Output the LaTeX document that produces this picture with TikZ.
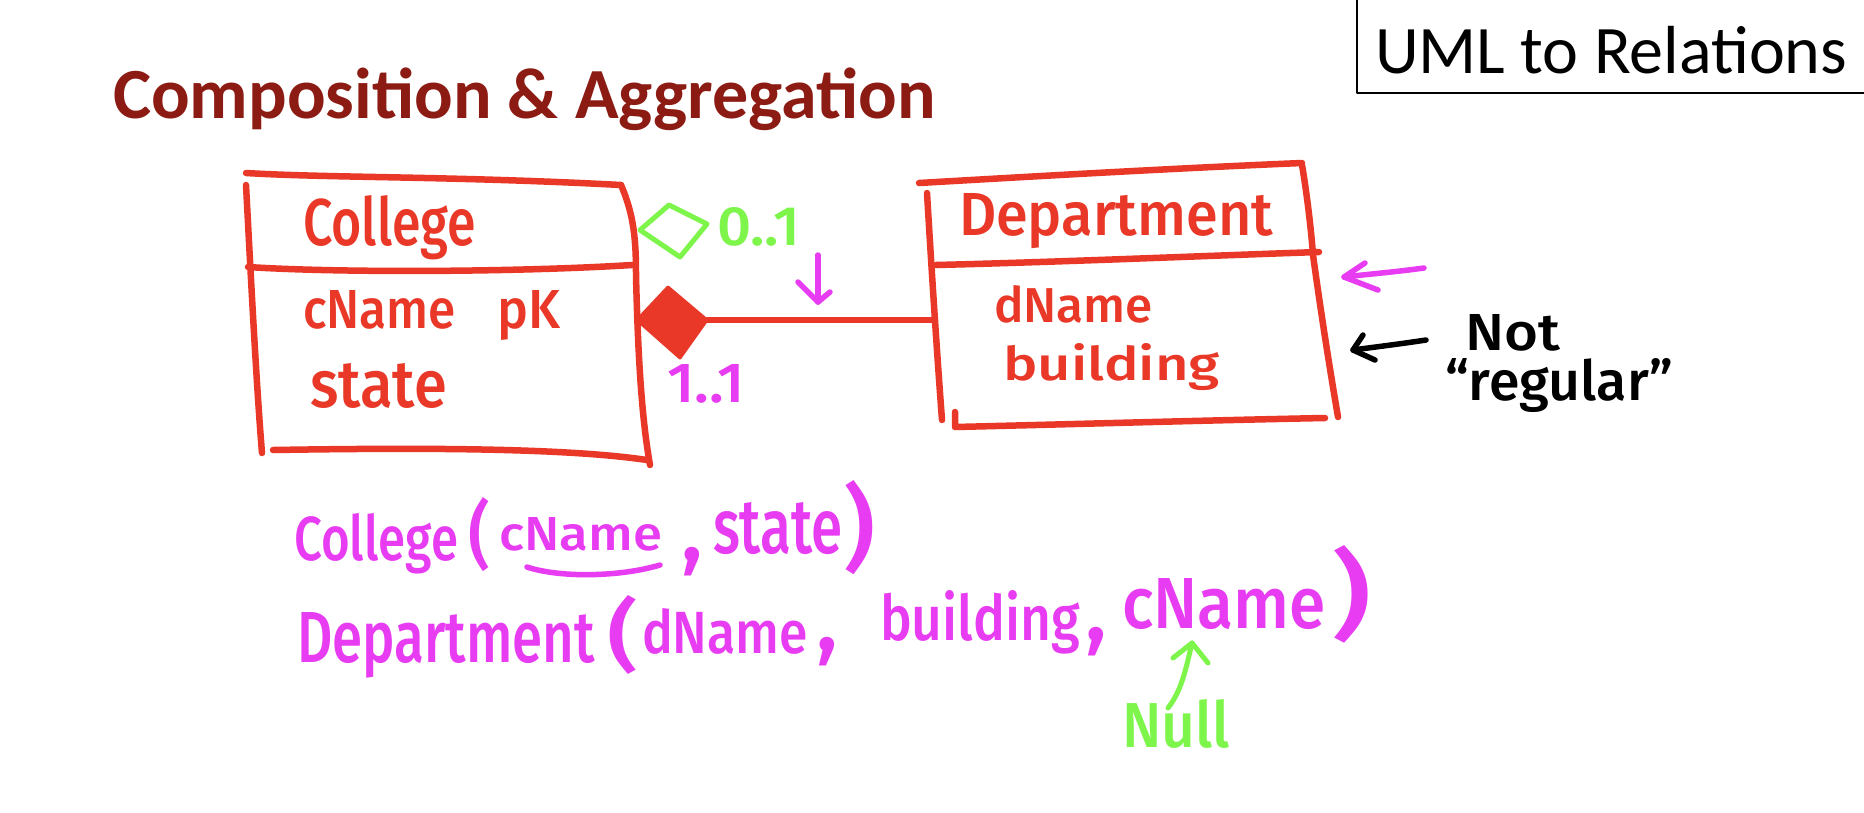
\documentclass[tikz,border=0pt]{standalone}
\usepackage{fontspec}
\usepackage{graphicx}
\newfontfamily\calib{Carlito}
\newfontfamily\hand{Fira Sans Medium}
\definecolor{penred}{RGB}{233,56,40}
\definecolor{pengreen}{RGB}{125,245,75}
\definecolor{penmag}{RGB}{232,60,242}
\definecolor{titlered}{RGB}{140,27,19}
\newcommand\hw[3]{\resizebox{#1pt}{#2pt}{\hand\fontsize{40}{40}\selectfont #3}}
\newcommand\hcomma{{\hand\fontsize{90}{90}\selectfont ,}}
\tikzset{
  redpen/.style={draw=penred, line width=6.5pt},
  greenpen/.style={draw=pengreen, line width=5pt},
  magpen/.style={draw=penmag, line width=5.5pt},
  blackpen/.style={draw=black, line width=5.5pt},
  hw/.style={inner sep=0pt, outer sep=0pt, anchor=base west},
}
\begin{document}
\begin{tikzpicture}[x=1pt,y=-1pt,line cap=round,line join=round]
\useasboundingbox (0,0) rectangle (1864,812);
\clip (0,0) rectangle (1864,812);
\fill[white] (0,0) rectangle (1864,812);

% Title and header box
\node[hw,text=titlered] (title) at (113,118) {\calib\bfseries\fontsize{72}{72}\selectfont Composition \& Aggregation};
\draw[line width=1.6pt] (1357,-10) rectangle (1880,93);
\node[hw] (uml) at (1375,73) {\calib\fontsize{68}{68}\selectfont UML to Relations};

% College box
\draw[redpen] (246,173) .. controls (330,178) and (450,176) .. (621,185);
\draw[redpen] (246,185) .. controls (250,260) and (256,380) .. (262,453);
\draw[redpen] (621,185) .. controls (634,215) and (636,240) .. (636,275) .. controls (638,360) and (642,420) .. (650,465);
\draw[redpen] (248,267) .. controls (340,273) and (520,272) .. (632,265);
\draw[redpen] (273,450) .. controls (400,448) and (560,447) .. (647,460);
\node[hw,text=penred] (colname) at (303,245) {\hw{173}{50}{College}};
\node[hw,text=penred] (colattr1) at (303,328) {\hw{153}{38}{cName}};
\node[hw,text=penred] (colpk) at (497,328) {\hw{63}{38}{pK}};
\node[hw,text=penred] (colattr2) at (310,407) {\hw{137}{44}{state}};

% Department box
\draw[redpen] (919,183) .. controls (1040,176) and (1180,168) .. (1302,163);
\draw[redpen] (927,193) .. controls (931,260) and (936,340) .. (942,420);
\draw[redpen] (936,265) .. controls (1060,262) and (1200,256) .. (1319,252);
\draw[redpen] (1302,165) .. controls (1308,200) and (1312,240) .. (1313,255) .. controls (1322,320) and (1330,370) .. (1338,417);
\draw[redpen] (955,412) -- (955,427) .. controls (1080,424) and (1220,420) .. (1325,418);
\node[hw,text=penred] (depname) at (959,235) {\hw{314}{42}{Department}};
\node[hw,text=penred] (depattr1) at (994,322) {\hw{159}{37}{dName}};
\node[hw,text=penred] (depattr2) at (1003,380) {\hw{217}{37}{building}};

% Composition diamond and connector
\coordinate (diaR) at (707,320);
\coordinate (deptL) at (935,320);
\fill[penred, draw=penred, line width=3pt] (668,287) -- (diaR) -- (680,358) -- (637,320) -- cycle;
\draw[redpen] (diaR) -- (deptL);

% Aggregation (green) diamond and multiplicities
\draw[greenpen] (669,205) -- (707,224) -- (680,257) -- (640,230) -- cycle;
\node[hw,text=pengreen] (mult01) at (717,245) {\hw{83}{38}{0..1}};
\node[hw,text=penmag] (mult11) at (667,402) {\hw{78}{38}{1..1}};

% small magenta down arrow
\coordinate (sa1) at (818,255);
\coordinate (sa2) at (818,302);
\draw[magpen] (sa1) -- (sa2);
\draw[magpen] (798,282) -- (sa2) -- (830,292);

% right side arrows
\coordinate (ma1) at (1424,268);
\coordinate (ma2) at (1344,277);
\draw[magpen] (ma1) .. controls (1395,272) and (1370,274) .. (ma2);
\draw[magpen] (1365,263) -- (ma2) -- (1378,290);
\coordinate (ba1) at (1426,340);
\coordinate (ba2) at (1353,350);
\draw[blackpen] (ba1) .. controls (1400,344) and (1375,347) .. (ba2);
\draw[blackpen] (1363,335) -- (ba2) -- (1375,360);
\node[hw] (nottxt) at (1465,350) {\hw{95}{36}{Not}};
\node[hw] (regtxt) at (1445,400) {\hw{228}{42}{“regular”}};

% Relations (magenta)
\node[hw,text=penmag] (r1a) at (294,560) {\hw{164}{47}{College}};
\node[hw,text=penmag] (r1p) at (468,560) {\hw{22}{63}{(}};
\node[hw,text=penmag] (r1b) at (499,550) {\hw{163}{33}{cName}};
\draw[magpen] (527,567) .. controls (560,578) and (620,577) .. (660,565);
\node[hw,text=penmag] (r1c) at (681,560) {\hcomma};
\node[hw,text=penmag] (r1d) at (713,553) {\hw{130}{51}{state}};
\node[hw,text=penmag] (r1q) at (843,560) {\hw{32}{80}{)}};

\node[hw,text=penmag] (r2a) at (297,662) {\hw{298}{50}{Department}};
\node[hw,text=penmag] (r2p) at (607,662) {\hw{31}{67}{(}};
\node[hw,text=penmag] (r2b) at (642,653) {\hw{166}{45}{dName}};
\node[hw,text=penmag] (r2c) at (816,650) {\hcomma};
\node[hw,text=penmag] (r2d) at (880,640) {\hw{200}{50}{building}};
\node[hw,text=penmag] (r2e) at (1085,640) {\hcomma};
\node[hw,text=penmag] (r2f) at (1122,628) {\hw{204}{50}{cName}};
\node[hw,text=penmag] (r2q) at (1331,628) {\hw{40}{83}{)}};

% Null annotation
\node[hw,text=pengreen] (nulltxt) at (1122,747) {\hw{108}{48}{Null}};
\coordinate (ga1) at (1168,708);
\coordinate (ga2) at (1192,643);
\draw[greenpen] (ga1) .. controls (1182,690) and (1186,668) .. (ga2);
\draw[greenpen] (1173,658) -- (ga2) -- (1208,663);
\end{tikzpicture}
\end{document}
